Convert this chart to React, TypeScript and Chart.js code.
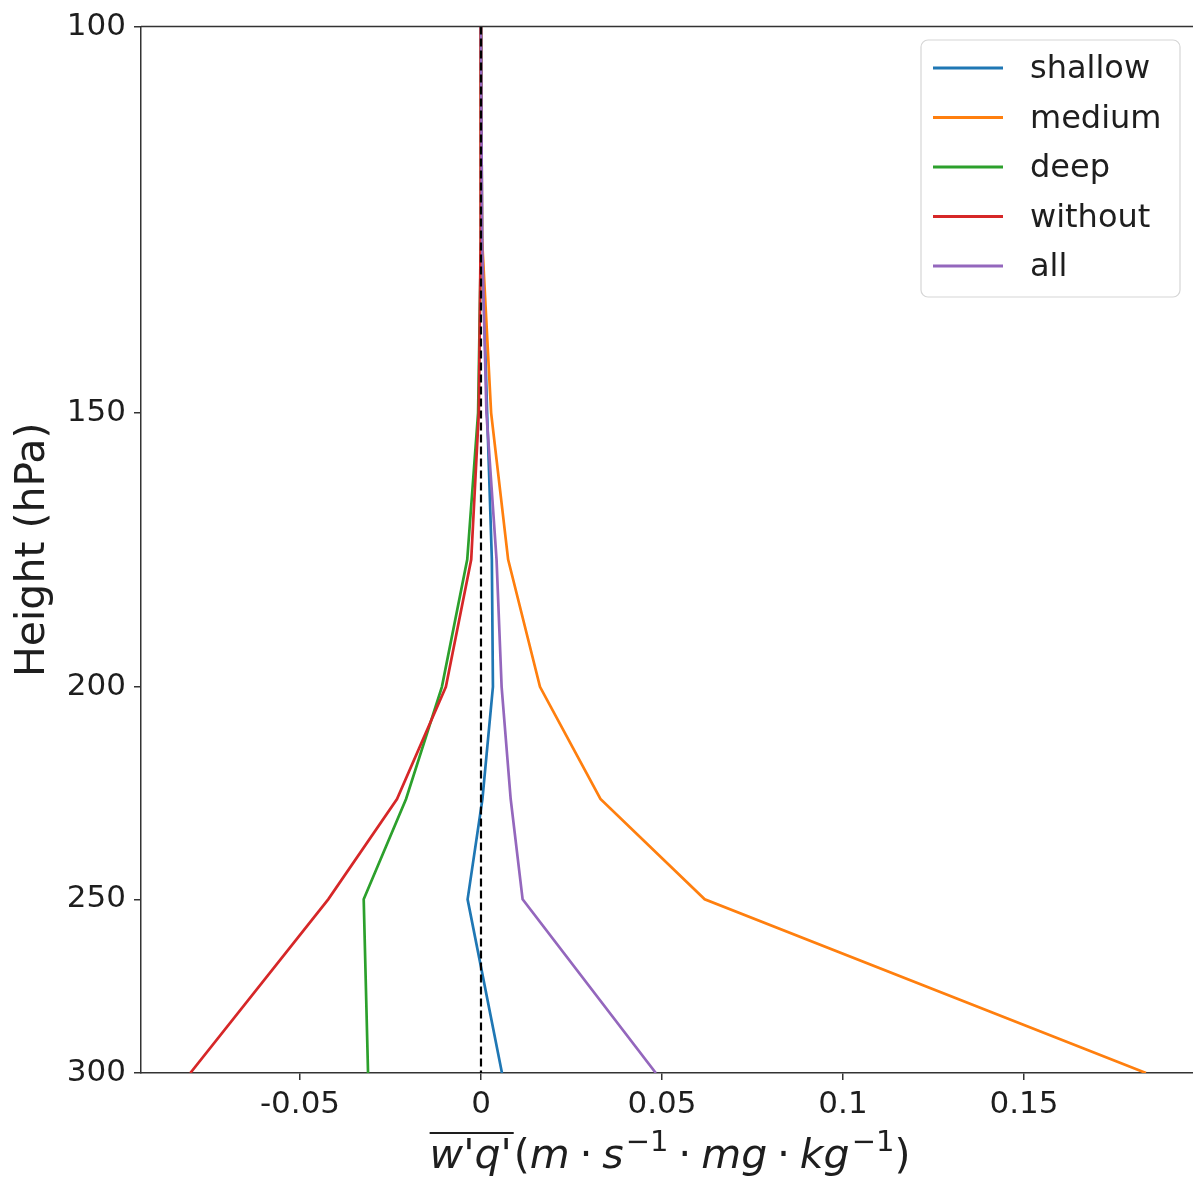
import React, { useEffect, useRef } from "react";
import { Chart, registerables } from "chart.js";

Chart.register(...registerables);

// ---- data ----
const levels = [100, 125, 150, 175, 200, 225, 250, 300];
const shallow = [0, 0.0003, 0.0017, 0.003, 0.0033, 0.0004, -0.0037, 0.0058];
const medium = [0, 0.0003, 0.0028, 0.0075, 0.0163, 0.033, 0.0618, 0.1837];
const deep = [0, 0, -0.0008, -0.0038, -0.0108, -0.0207, -0.0324, -0.0312];
const without = [0, -0.0001, -0.0006, -0.0027, -0.0097, -0.0232, -0.0422, -0.0803];
const all = [0, 0.0003, 0.0015, 0.0043, 0.0057, 0.0082, 0.0115, 0.0483];
const zeroLevels = [100, 300];
const zeroValues = [0, 0];

const seriesNames = ["shallow", "medium", "deep", "without", "all"];
const seriesColors = ["#1f77b4", "#ff7f0e", "#2ca02c", "#d62728", "#9467bd"];
const seriesValues = [shallow, medium, deep, without, all];

const xTicks = [-0.05, 0, 0.05, 0.1, 0.15];
const xTickLabels = ["-0.05", "0", "0.05", "0.1", "0.15"];
const yTicks = [100, 150, 200, 250, 300];
const yTickLabels = ["100", "150", "200", "250", "300"];

const W = 1193;
const H = 1184;
const FONT = "'DejaVu Sans', sans-serif";
const TEXT = "#1e1e1e";
const AXIS = "#333333";

const framePlugin = {
  id: "frame",
  afterDraw(chart: any) {
    const { ctx, chartArea } = chart;
    ctx.save();
    ctx.strokeStyle = AXIS;
    ctx.lineWidth = 1.5;
    ctx.beginPath();
    ctx.moveTo(chartArea.left, chartArea.top);
    ctx.lineTo(chartArea.right, chartArea.top);
    ctx.stroke();
    ctx.restore();
  },
};

const legendPlugin = {
  id: "boxLegend",
  afterDraw(chart: any) {
    const { ctx } = chart;
    const x0 = 921, y0 = 40, w = 259, h = 257, r = 7;
    ctx.save();
    ctx.beginPath();
    ctx.moveTo(x0 + r, y0);
    ctx.lineTo(x0 + w - r, y0);
    ctx.arcTo(x0 + w, y0, x0 + w, y0 + r, r);
    ctx.lineTo(x0 + w, y0 + h - r);
    ctx.arcTo(x0 + w, y0 + h, x0 + w - r, y0 + h, r);
    ctx.lineTo(x0 + r, y0 + h);
    ctx.arcTo(x0, y0 + h, x0, y0 + h - r, r);
    ctx.lineTo(x0, y0 + r);
    ctx.arcTo(x0, y0, x0 + r, y0, r);
    ctx.closePath();
    ctx.fillStyle = "rgba(255,255,255,0.8)";
    ctx.fill();
    ctx.strokeStyle = "#d6d6d6";
    ctx.lineWidth = 1.2;
    ctx.stroke();
    ctx.font = `32px ${FONT}`;
    ctx.textBaseline = "middle";
    ctx.textAlign = "left";
    seriesNames.forEach((name, i) => {
      const y = 68 + i * 49.5;
      ctx.strokeStyle = seriesColors[i];
      ctx.lineWidth = 2.8;
      ctx.beginPath();
      ctx.moveTo(933, y);
      ctx.lineTo(1003, y);
      ctx.stroke();
      ctx.fillStyle = TEXT;
      ctx.fillText(name, 1030, y + 2);
    });
    ctx.restore();
  },
};

const xTitlePlugin = {
  id: "xTitle",
  afterDraw(chart: any) {
    const { ctx } = chart;
    const S = 41;
    const it = `oblique ${S}px ${FONT}`;
    const up = `${S}px ${FONT}`;
    const sup = `${Math.round(S * 0.7)}px ${FONT}`;
    const gap = S * 0.24;
    type P = { t: string; f: string; dy?: number; pre?: number; post?: number };
    const parts: P[] = [
      { t: "w", f: it },
      { t: "'", f: up },
      { t: "q", f: it },
      { t: "'", f: up },
      { t: "(", f: up, pre: 2 },
      { t: "m", f: it },
      { t: "·", f: up, pre: gap, post: gap },
      { t: "s", f: it },
      { t: "−1", f: sup, dy: -S * 0.42, pre: 2 },
      { t: "·", f: up, pre: gap, post: gap },
      { t: "mg", f: it },
      { t: "·", f: up, pre: gap, post: gap },
      { t: "kg", f: it },
      { t: "−1", f: sup, dy: -S * 0.42, pre: 2 },
      { t: ")", f: up },
    ];
    ctx.save();
    let total = 0;
    const widths: number[] = [];
    parts.forEach((p) => {
      ctx.font = p.f;
      const wd = ctx.measureText(p.t).width;
      widths.push(wd);
      total += wd + (p.pre || 0) + (p.post || 0);
    });
    const cx = 670;
    const base = 1168;
    let x = cx - total / 2;
    ctx.fillStyle = TEXT;
    ctx.textBaseline = "alphabetic";
    ctx.textAlign = "left";
    const olStart = x;
    let olEnd = x;
    parts.forEach((p, i) => {
      x += p.pre || 0;
      ctx.font = p.f;
      ctx.fillText(p.t, x, base + (p.dy || 0));
      x += widths[i] + (p.post || 0);
      if (i === 3) olEnd = x;
    });
    ctx.strokeStyle = TEXT;
    ctx.lineWidth = 2;
    ctx.beginPath();
    ctx.moveTo(olStart, 1133);
    ctx.lineTo(olEnd + 2, 1133);
    ctx.stroke();
    ctx.restore();
  },
};

export default function App() {
  const ref = useRef<HTMLCanvasElement | null>(null);

  useEffect(() => {
    if (!ref.current) return;
    const datasets: any[] = seriesNames.map((name, i) => ({
      label: name,
      data: levels.map((p, j) => ({ x: seriesValues[i][j], y: p })),
      borderColor: seriesColors[i],
      backgroundColor: seriesColors[i],
      borderWidth: 2.7,
      pointRadius: 0,
      showLine: true,
      tension: 0,
      fill: false,
      order: -i,
    }));
    datasets.push({
      label: "zero",
      data: zeroLevels.map((p, j) => ({ x: zeroValues[j], y: p })),
      borderColor: "#000000",
      borderWidth: 2.2,
      borderDash: [8, 4],
      pointRadius: 0,
      showLine: true,
      fill: false,
      order: -10,
    });

    const chart = new Chart(ref.current, {
      type: "scatter",
      data: { datasets },
      options: {
        animation: false,
        responsive: false,
        devicePixelRatio: 1,
        layout: { padding: { left: 0, top: 25, right: 0, bottom: 0 } },
        plugins: {
          legend: { display: false },
          tooltip: { enabled: false },
        },
        scales: {
          x: {
            type: "linear",
            min: -0.09392,
            max: 0.19669,
            afterBuildTicks: (s: any) => {
              s.ticks = xTicks.map((v) => ({ value: v }));
            },
            afterFit: (s: any) => {
              s.height = 111;
            },
            ticks: {
              callback: (_v: any, i: number) => xTickLabels[i],
              font: { family: FONT, size: 31 },
              color: TEXT,
              padding: 6,
              maxRotation: 0,
              autoSkip: false,
            },
            grid: {
              drawOnChartArea: false,
              drawTicks: true,
              tickLength: 7,
              color: AXIS,
              lineWidth: 1.5,
            },
            border: { display: true, color: AXIS, width: 1.5 },
          },
          y: {
            type: "logarithmic",
            reverse: true,
            min: 100,
            max: 300,
            afterBuildTicks: (s: any) => {
              s.ticks = yTicks.map((v) => ({ value: v }));
            },
            afterFit: (s: any) => {
              s.width = 141;
            },
            ticks: {
              callback: (_v: any, i: number) => yTickLabels[i],
              font: { family: FONT, size: 31 },
              color: TEXT,
              padding: 8,
              autoSkip: false,
            },
            grid: {
              drawOnChartArea: false,
              drawTicks: true,
              tickLength: 7,
              color: AXIS,
              lineWidth: 1.5,
            },
            border: { display: true, color: AXIS, width: 1.5 },
            title: {
              display: true,
              text: "Height (hPa)",
              font: { family: FONT, size: 41 },
              color: TEXT,
              padding: { top: 9, bottom: 0 },
            },
          },
        },
      },
      plugins: [framePlugin, legendPlugin, xTitlePlugin],
    });
    return () => chart.destroy();
  }, []);

  return (
    <div style={{ position: "absolute", left: 0, top: 0, width: W, height: H, background: "#fff" }}>
      <canvas ref={ref} width={W} height={H} style={{ width: W, height: H, display: "block" }} />
    </div>
  );
}
